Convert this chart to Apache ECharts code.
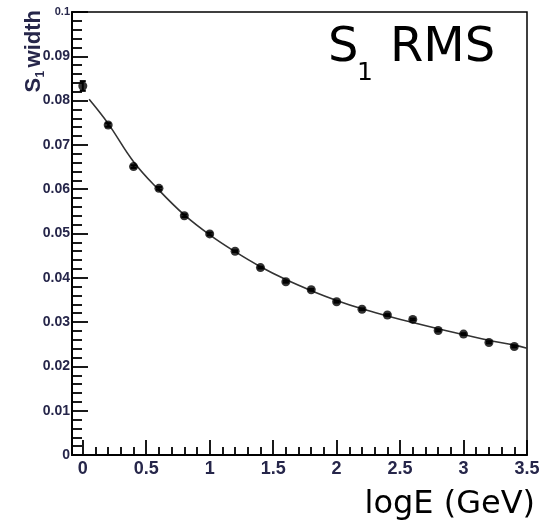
<!DOCTYPE html>
<html>
<head>
<meta charset="utf-8">
<script src="https://cdn.jsdelivr.net/npm/echarts@6/dist/echarts.min.js"></script>
<style>html,body{margin:0;padding:0;background:#fff}#c{width:547px;height:520px}</style>
</head>
<body>
<div id="c"></div>
<script>
// Data points (logE, S1 width)
const pointX = [0.0, 0.2, 0.4, 0.6, 0.8, 1.0, 1.2, 1.4, 1.6, 1.8, 2.0, 2.2, 2.4, 2.6, 2.8, 3.0, 3.2, 3.4];
const pointY = [0.0833, 0.0745, 0.0651, 0.0602, 0.0540, 0.0499, 0.0460, 0.0423, 0.0391, 0.0373, 0.0346, 0.0329, 0.0316, 0.0306, 0.0281, 0.0273, 0.0254, 0.0245];
const pointErr = [0.0011, 0.0004, 0.0003, 0.0003, 0.0003, 0.0003, 0.0002, 0.0002, 0.0002, 0.0002, 0.0002, 0.0002, 0.0002, 0.0002, 0.0002, 0.0002, 0.0002, 0.0002];
// Fit curve
const fitX = [0.05, 0.2, 0.4, 0.6, 0.8, 1.0, 1.2, 1.4, 1.6, 1.8, 2.0, 2.2, 2.4, 2.6, 2.8, 3.0, 3.2, 3.4, 3.5];
const fitY = [0.0803, 0.0748, 0.0662, 0.0598, 0.0542, 0.0497, 0.0459, 0.0425, 0.0396, 0.0371, 0.0349, 0.0330, 0.0314, 0.0299, 0.0285, 0.0272, 0.0259, 0.0248, 0.0241];
// Tick values
const xMajorTicks = [0, 0.5, 1, 1.5, 2, 2.5, 3, 3.5];
const xMinorTicks = [0.1,0.2,0.3,0.4,0.6,0.7,0.8,0.9,1.1,1.2,1.3,1.4,1.6,1.7,1.8,1.9,2.1,2.2,2.3,2.4,2.6,2.7,2.8,2.9,3.1,3.2,3.3,3.4];

const labelColor = '#26264a';
const chart = echarts.init(document.getElementById('c'), null, {renderer: 'canvas'});
const axisFont = {fontFamily: 'Liberation Sans', fontWeight: 'bold', color: labelColor};

const option = {
  animation: false,
  grid: {left: 72, right: 20, top: 12, bottom: 65, show: true, borderColor: '#000', borderWidth: 1.5, backgroundColor: 'transparent'},
  xAxis: [
    {type: 'value', min: -0.085, max: 3.5, position: 'bottom',
     axisLine: {show: true, onZero: false, lineStyle: {color: '#000', width: 2}},
     axisTick: {show: true, inside: true, length: 15, customValues: xMajorTicks, lineStyle: {color: '#000', width: 1.8}},
     axisLabel: {show: true, customValues: xMajorTicks, margin: 5, fontSize: 18, ...axisFont,
       formatter: v => String(+(+v).toFixed(1))},
     splitLine: {show: false}},
    {type: 'value', min: -0.085, max: 3.5, position: 'bottom',
     axisLine: {show: false},
     axisTick: {show: true, inside: true, length: 8, customValues: xMinorTicks, lineStyle: {color: '#000', width: 1.8}},
     axisLabel: {show: false}, splitLine: {show: false}}
  ],
  yAxis: [
    {type: 'value', min: 0, max: 0.1, interval: 0.01, position: 'left',
     axisLine: {show: true, onZero: false, lineStyle: {color: '#000', width: 2}},
     axisTick: {show: true, inside: true, length: 16, lineStyle: {color: '#000', width: 1.8}},
     minorTick: {show: true, splitNumber: 5, length: 10, lineStyle: {color: '#000', width: 1.8}},
     axisLabel: {show: true, margin: 2, fontSize: 14, ...axisFont,
       formatter: v => { const s = String(+(+v).toFixed(2)); return s === '0.1' ? '{s|0.1}' : s; },
       rich: {s: {fontSize: 11, fontFamily: 'Liberation Sans', fontWeight: 'bold', color: labelColor}}},
     splitLine: {show: false}}
  ],
  series: [
    {type: 'line', xAxisIndex: 0, yAxisIndex: 0, smooth: 0.4, symbol: 'none',
     lineStyle: {color: '#333', width: 1.6}, z: 2,
     data: fitX.map((x, i) => [x, fitY[i]])},
    {type: 'custom', xAxisIndex: 0, yAxisIndex: 0, z: 3,
     renderItem: (params, api) => {
       const x = api.value(0), y = api.value(1), e = api.value(2);
       const top = api.coord([x, y + e]);
       const bot = api.coord([x, y - e]);
       return {type: 'group', children: [
         {type: 'line', shape: {x1: top[0], y1: top[1], x2: bot[0], y2: bot[1]}, style: {stroke: '#000', lineWidth: 2}},
         {type: 'line', shape: {x1: top[0] - 3, y1: top[1], x2: top[0] + 3, y2: top[1]}, style: {stroke: '#000', lineWidth: 2}},
         {type: 'line', shape: {x1: bot[0] - 3, y1: bot[1], x2: bot[0] + 3, y2: bot[1]}, style: {stroke: '#000', lineWidth: 2}}
       ]};
     },
     data: pointX.map((x, i) => [x, pointY[i], pointErr[i]])},
    {type: 'scatter', xAxisIndex: 0, yAxisIndex: 0, symbol: 'circle', symbolSize: 9, z: 4,
     itemStyle: {color: '#000'},
     data: pointX.map((x, i) => [x, pointY[i]])}
  ],
  graphic: [
    {type: 'text', left: 328, top: 25, style: {text: 'S', font: '48px "DejaVu Sans"', fill: '#000'}},
    {type: 'text', left: 357, top: 61, style: {text: '1', font: '25px "DejaVu Sans"', fill: '#000'}},
    {type: 'text', left: 390, top: 25, style: {text: 'RMS', font: '48px "DejaVu Sans"', fill: '#000'}},
    {type: 'text', right: 12, top: 489, style: {text: 'logE (GeV)', font: '32px "DejaVu Sans"', fill: '#000'}},
    {type: 'group', left: 23, top: 10, rotation: Math.PI / 2, children: [
      {type: 'text', x: 0, y: 0, style: {text: 'S', font: 'bold 22px "Liberation Sans"', fill: labelColor}},
      {type: 'text', x: 15, y: 12, style: {text: '1', font: 'bold 12px "Liberation Sans"', fill: labelColor}},
      {type: 'text', x: 25, y: 0, style: {text: 'width', font: 'bold 22px "Liberation Sans"', fill: labelColor}}
    ]}
  ]
};
chart.setOption(option);
</script>
</body>
</html>
